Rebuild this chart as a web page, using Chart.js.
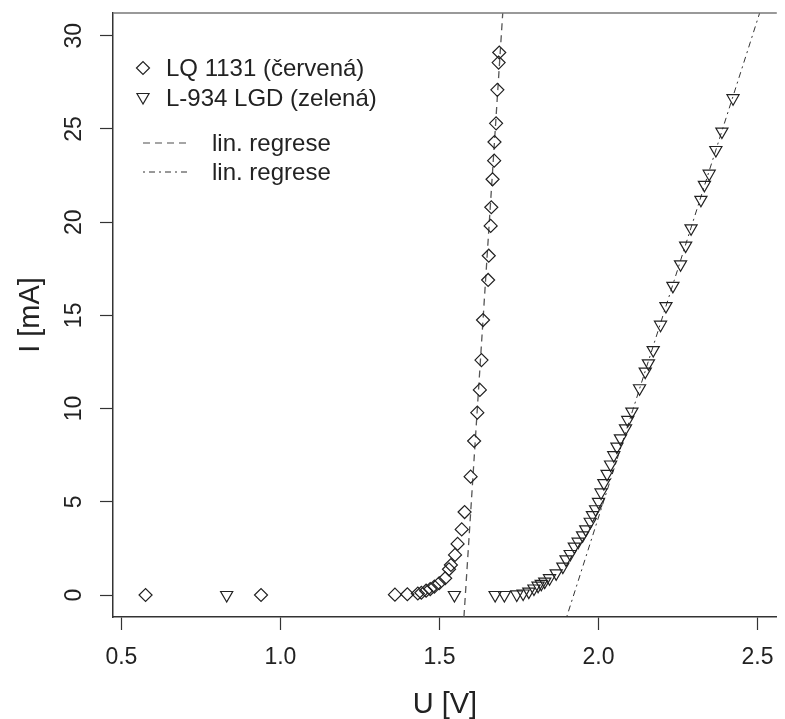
<!DOCTYPE html>
<html>
<head>
<meta charset="utf-8">
<script src="https://cdn.jsdelivr.net/npm/chart.js@4.4.0/dist/chart.umd.min.js"></script>
<style>
  html, body { margin: 0; padding: 0; background: #fff; overflow: hidden; }
  #wrap { width: 785px; height: 719px; }
</style>
</head>
<body>
<div id="wrap"><canvas id="chart" width="785" height="719"></canvas></div>
<script>
// LQ 1131 (cervena) - U [V], I [mA]
const redU = [0.576, 0.939, 1.360, 1.399, 1.432, 1.443, 1.458, 1.471, 1.484, 1.499, 1.518, 1.530,
  1.536, 1.549, 1.557, 1.570, 1.579, 1.598, 1.609, 1.619, 1.627, 1.632, 1.637, 1.653, 1.655,
  1.661, 1.663, 1.667, 1.672, 1.673, 1.678, 1.682, 1.686, 1.688];
const redI = [0, 0, 0.02, 0.04, 0.08, 0.12, 0.23, 0.32, 0.45, 0.63, 0.9, 1.38,
  1.61, 2.15, 2.74, 3.52, 4.45, 6.35, 8.26, 9.78, 11.0, 12.6, 14.75, 16.9, 18.2,
  19.8, 20.8, 22.3, 23.3, 24.3, 25.3, 27.1, 28.56, 29.1];

// L-934 LGD (zelena)
const greenU = [0.831, 1.547, 1.675, 1.704, 1.743, 1.763, 1.781, 1.797, 1.810, 1.820, 1.831, 1.846,
  1.867, 1.888, 1.898, 1.911, 1.924, 1.936, 1.950, 1.960, 1.974, 1.981, 1.991, 2.000, 2.008,
  2.017, 2.027, 2.038, 2.048, 2.058, 2.069, 2.085, 2.092, 2.105, 2.129, 2.147, 2.157, 2.172,
  2.195, 2.212, 2.234, 2.258, 2.274, 2.291, 2.322, 2.333, 2.348, 2.369, 2.388, 2.423];
const greenI = [0, 0, 0, 0, 0.03, 0.08, 0.18, 0.35, 0.5, 0.6, 0.72, 0.9,
  1.16, 1.52, 1.91, 2.2, 2.6, 2.86, 3.2, 3.52, 3.93, 4.29, 4.6, 5.0, 5.5,
  6.0, 6.5, 7.0, 7.5, 7.96, 8.4, 8.94, 9.39, 9.84, 11.09, 11.98, 12.43, 13.14,
  14.5, 15.5, 16.58, 17.74, 18.74, 19.67, 21.2, 22.0, 22.6, 23.87, 24.86, 26.65];

// linear regressions I = slope * (U - u0)
const regRed = { slope: 265.6, u0: 1.5814 };
const regGreen = { slope: 53.4, u0: 1.922 };

const xTicks = [0.5, 1.0, 1.5, 2.0, 2.5];
const yTicks = [0, 5, 10, 15, 20, 25, 30];
const xMin = 0.4736, xMax = 2.5606;
const yMin = -1.18, yMax = 31.22;

const labels = ['LQ 1131 (červená)', 'L-934 LGD (zelená)', 'lin. regrese', 'lin. regrese'];

const FONT = '"Liberation Sans", Arial, Helvetica, sans-serif';
const INK = '#222';

function pts(us, is) {
  return us.map((u, i) => ({ x: u, y: is[i] }));
}
function regLine(r) {
  // endpoints where the line meets the y limits
  return [yMin, yMax].map(v => ({ x: r.u0 + v / r.slope, y: v }));
}
function noPad(s) {
  s.paddingTop = 0; s.paddingBottom = 0; s.paddingLeft = 0; s.paddingRight = 0;
}

const legendPlugin = {
  id: 'rlegend',
  afterDraw(chart) {
    const ctx = chart.ctx;
    ctx.save();
    // top edge of the plot box
    const a = chart.chartArea;
    ctx.strokeStyle = '#777';
    ctx.lineWidth = 1.5;
    ctx.beginPath();
    ctx.moveTo(a.left, a.top);
    ctx.lineTo(a.right, a.top);
    ctx.stroke();

    ctx.font = '24px ' + FONT;
    ctx.fillStyle = INK;
    ctx.textBaseline = 'middle';
    ctx.strokeStyle = INK;
    ctx.lineWidth = 1.2;

    // diamond
    let x = 143, y = 68, r = 6.5;
    ctx.beginPath();
    ctx.moveTo(x - r, y); ctx.lineTo(x, y - r); ctx.lineTo(x + r, y); ctx.lineTo(x, y + r);
    ctx.closePath(); ctx.stroke();
    ctx.fillText(labels[0], 166, 69);

    // triangle down
    y = 97; r = 7;
    ctx.beginPath();
    ctx.moveTo(x, y + r);
    ctx.lineTo(x - r * 0.866, y - r / 2);
    ctx.lineTo(x + r * 0.866, y - r / 2);
    ctx.closePath(); ctx.stroke();
    ctx.fillText(labels[1], 166, 99);

    // dashed line
    ctx.strokeStyle = '#888';
    ctx.lineWidth = 1.3;
    ctx.setLineDash([7, 5]);
    ctx.beginPath(); ctx.moveTo(143, 143); ctx.lineTo(190, 143); ctx.stroke();
    ctx.fillText(labels[2], 212, 144);

    // dot-dash line
    ctx.strokeStyle = '#333';
    ctx.lineWidth = 1;
    ctx.setLineDash([2, 4, 6, 4]);
    ctx.beginPath(); ctx.moveTo(143, 172); ctx.lineTo(190, 172); ctx.stroke();
    ctx.fillText(labels[3], 212, 173);
    ctx.restore();
  }
};

const ctx = document.getElementById('chart').getContext('2d');
const chart = new Chart(ctx, {
  type: 'scatter',
  data: {
    datasets: [
      {
        label: labels[0],
        data: pts(redU, redI),
        pointStyle: 'rectRot',
        pointRadius: 6.5,
        pointBorderWidth: 1.2,
        pointBorderColor: INK,
        pointBackgroundColor: 'rgba(0,0,0,0)',
        showLine: false
      },
      {
        label: labels[1],
        data: pts(greenU, greenI),
        pointStyle: 'triangle',
        pointRotation: 180,
        pointRadius: 7,
        pointBorderWidth: 1.2,
        pointBorderColor: INK,
        pointBackgroundColor: 'rgba(0,0,0,0)',
        showLine: false
      },
      {
        label: labels[2],
        type: 'line',
        data: regLine(regRed),
        borderColor: '#555',
        borderWidth: 1.3,
        borderDash: [7, 5],
        pointRadius: 0,
        fill: false
      },
      {
        label: labels[3],
        type: 'line',
        data: regLine(regGreen),
        borderColor: '#333',
        borderWidth: 1,
        borderDash: [2, 4, 6, 4],
        pointRadius: 0,
        fill: false
      }
    ]
  },
  options: {
    responsive: false,
    animation: false,
    layout: { padding: { top: 13, left: 0, right: 0, bottom: 0 } },
    plugins: {
      legend: { display: false },
      tooltip: { enabled: false }
    },
    scales: {
      x: {
        type: 'linear',
        min: xMin,
        max: xMax,
        afterBuildTicks: (s) => { s.ticks = xTicks.map(v => ({ value: v })); },
        afterFit: (s) => { s.height = 102; noPad(s); },
        grid: { drawOnChartArea: false, drawTicks: true, tickLength: 13, tickColor: '#333', tickWidth: 1.2 },
        border: { display: true, color: '#333', width: 1.5 },
        ticks: {
          padding: 14,
          color: INK,
          font: { family: FONT, size: 23 },
          maxRotation: 0,
          callback: (v) => v.toFixed(1)
        },
        title: {
          display: true,
          text: 'U [V]',
          color: INK,
          font: { family: FONT, size: 29, lineHeight: 1 },
          padding: { top: 0, bottom: 0 }
        }
      },
      y: {
        type: 'linear',
        min: yMin,
        max: yMax,
        afterBuildTicks: (s) => { s.ticks = yTicks.map(v => ({ value: v })); },
        afterFit: (s) => { s.width = 113; noPad(s); },
        grid: { drawOnChartArea: false, drawTicks: true, tickLength: 13, tickColor: '#333', tickWidth: 1.2 },
        border: { display: true, color: '#333', width: 1.5 },
        ticks: {
          padding: 13,
          color: INK,
          font: { family: FONT, size: 23 },
          minRotation: 90,
          maxRotation: 90,
          crossAlign: 'center',
          callback: (v) => String(v)
        },
        title: {
          display: true,
          text: 'I [mA]',
          color: INK,
          font: { family: FONT, size: 29, lineHeight: 1 },
          padding: { top: 16, bottom: 0 }
        }
      }
    }
  },
  plugins: [legendPlugin]
});
</script>
</body>
</html>
